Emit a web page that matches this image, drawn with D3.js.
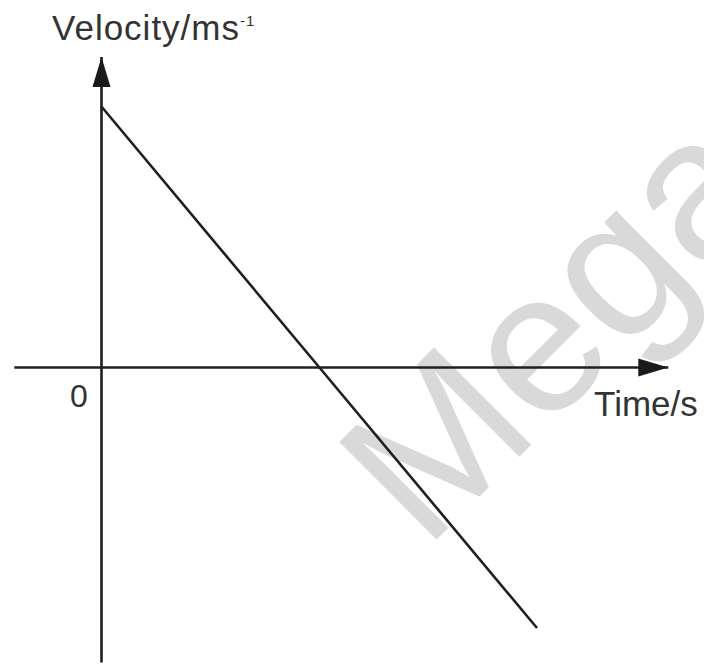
<!DOCTYPE html>
<html>
<head>
<meta charset="utf-8">
<script src="https://cdn.jsdelivr.net/npm/d3@7"></script>
<style>
  html, body { margin: 0; padding: 0; background: #fff; }
  svg { display: block; }
</style>
</head>
<body>
<div id="chart"></div>
<script>
/* Velocity-time graph: straight line falling through zero */

// data (arbitrary units, only "0" is labelled)
const times = [0, 5, 10];
const velocity = [10, 0, -10];
const timeAxisExtent = [-2, 13];        // how far the drawn time axis reaches
const velocityAxisExtent = [-11.3, 11.9];
const originLabel = "0";
const xLabel = "Time/s";
const yLabel = "Velocity/ms";
const yLabelSup = "-1";
const watermark = "Mega";

const width = 704,
    height = 666;

const data = times.map((t, i) => ({t: t, v: velocity[i]}));

let svg = d3.select("#chart")
    .append("svg")
    .attr("width", width)
    .attr("height", height)
    .attr("viewBox", [0, 0, width, height]);

const x = d3.scaleLinear()   // time scale
    .domain([0, 10])
    .range([101, 537]);

const y = d3.scaleLinear()   // velocity scale
    .domain([-10, 10])
    .range([628, 106]);

// arrow head used on both axes
svg.append("defs").append("marker")
    .attr("id", "arrow")
    .attr("markerUnits", "userSpaceOnUse")
    .attr("viewBox", "-31 -10 32 20")
    .attr("refX", 0)
    .attr("refY", 0)
    .attr("markerWidth", 32)
    .attr("markerHeight", 20)
    .attr("orient", "auto")
    .append("path")
    .attr("d", "M-30,-9L0,0L-30,9Z")
    .attr("fill", "#1a1a1a");

// light grey watermark behind everything
svg.append("text")
    .text(watermark)
    .attr("transform", "translate(425,551) rotate(-45)")
    .attr("font-family", "'Liberation Sans', Arial, sans-serif")
    .attr("font-size", 200)
    .attr("fill", "#d9d9d9");

// axes: scales stretched over the drawn extents, no ticks
const xa = x.copy().domain(timeAxisExtent).range(timeAxisExtent.map(x));
const ya = y.copy().domain(velocityAxisExtent).range(velocityAxisExtent.map(y));

const xAxis = g => g
    .attr("transform", `translate(0,${y(0)})`)
    .call(d3.axisBottom(xa).tickValues([]).tickSizeOuter(0));

const yAxis = g => g
    .attr("transform", `translate(${x(0)},0)`)
    .call(d3.axisLeft(ya).tickValues([]).tickSizeOuter(0));

svg.append("g").call(xAxis);
svg.append("g").call(yAxis);

svg.selectAll(".domain")
    .attr("stroke", "#1f1f1f")
    .attr("stroke-width", 2.6)
    .attr("marker-end", "url(#arrow)");

// the velocity line
const line = d3.line()
    .x(d => x(d.t))
    .y(d => y(d.v));

svg.append("path")
    .datum(data)
    .attr("fill", "none")
    .attr("stroke", "#1f1f1f")
    .attr("stroke-width", 2.6)
    .attr("d", line);

// labels
const font = "'Liberation Sans', Arial, Helvetica, sans-serif";

svg.append("text")
    .text(originLabel)
    .attr("x", x(0) - 22)
    .attr("y", y(0) + 40)
    .attr("text-anchor", "middle")
    .attr("font-family", font)
    .attr("font-size", 32)
    .attr("fill", "#333");

svg.append("text")
    .text(xLabel)
    .attr("x", xa(timeAxisExtent[1]) + 30)
    .attr("y", y(0) + 49)
    .attr("text-anchor", "end")
    .attr("font-family", font)
    .attr("font-size", 35)
    .attr("fill", "#333");

let yl = svg.append("text")
    .attr("x", x(0) - 49)
    .attr("y", ya(velocityAxisExtent[1]) - 16)
    .attr("font-family", font)
    .attr("font-size", 35)
    .attr("letter-spacing", 1)
    .attr("fill", "#333");
yl.append("tspan").text(yLabel);
yl.append("tspan")
    .text(yLabelSup)
    .attr("font-size", 15)
    .attr("dy", -14);
</script>
</body>
</html>
